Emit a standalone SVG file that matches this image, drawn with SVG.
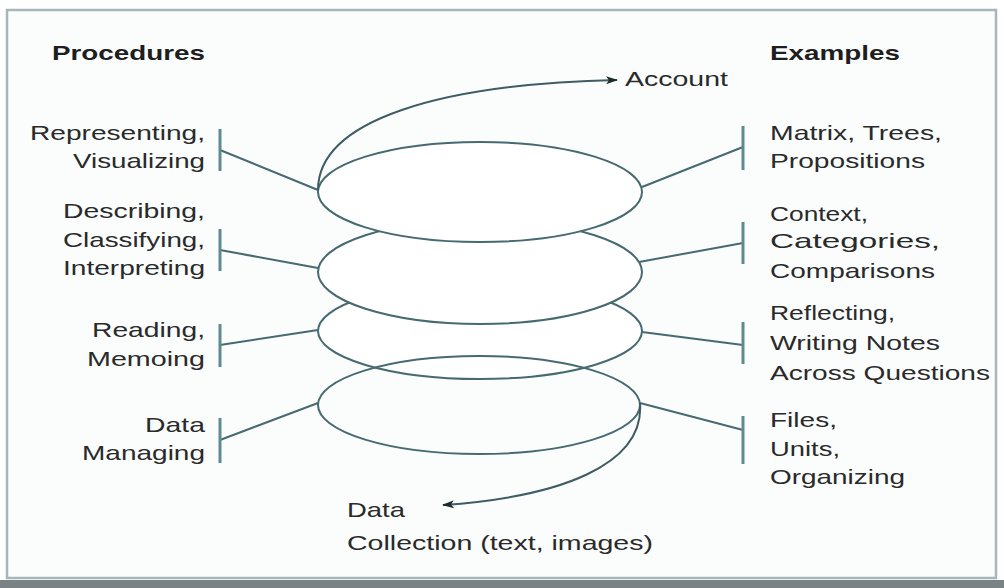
<svg xmlns="http://www.w3.org/2000/svg" width="1004" height="588" viewBox="0 0 1004 588">
  <style>
    .lbl { font-family: "Liberation Sans", Arial, sans-serif; font-size: 21px; fill: #2a2a2a; }
    .hdr { font-family: "Liberation Sans", Arial, sans-serif; font-size: 21px; font-weight: bold; fill: #1e1e1e; }
    .ring { fill: #ffffff; stroke: #466a70; stroke-width: 2; }
    .ring-open { fill: none; stroke: #466a70; stroke-width: 2; }
    .wire { fill: none; stroke: #466a70; stroke-width: 2; }
    .tick { stroke: #5e8a90; stroke-width: 3; }
    .flow { fill: none; stroke: #3e5c62; stroke-width: 2; }
  </style>
  <defs>
    <marker id="head" viewBox="0 0 12 8" refX="11" refY="4" markerWidth="12" markerHeight="8" markerUnits="userSpaceOnUse" orient="auto">
      <path d="M0,0 L12,4 L0,8 L3,4 z" fill="#1f2a2c"/>
    </marker>
  </defs>

  <!-- frame -->
  <rect x="0" y="0" width="1004" height="588" fill="#ffffff"/>
  <rect x="7" y="10" width="989" height="568" fill="#fbfdfd" stroke="#a7b6ba" stroke-width="2.5"/>
  <rect x="0" y="580" width="1004" height="8" fill="#7a8285"/>

  <!-- spiral of analysis: stacked loops, upper loops hide the top of the one below -->
  <g id="loops">
    <ellipse id="loop-reading" class="ring" cx="480" cy="331" rx="162" ry="48"/>
    <ellipse id="loop-describing" class="ring" cx="480" cy="272" rx="162" ry="52"/>
    <ellipse id="loop-representing" class="ring" cx="480" cy="192" rx="162" ry="50"/>
    <ellipse id="loop-managing" class="ring-open" cx="479" cy="405" rx="161" ry="49"/>
  </g>

  <g id="connectors">
    <!-- procedures side -->
    <line class="wire" x1="220" y1="150" x2="318" y2="190"/>
    <line class="wire" x1="220" y1="250" x2="318" y2="268"/>
    <line class="wire" x1="220" y1="345" x2="318" y2="330"/>
    <line class="wire" x1="220" y1="440" x2="318" y2="403"/>
    <line class="tick" x1="220" y1="129" x2="220" y2="171"/>
    <line class="tick" x1="220" y1="229" x2="220" y2="271"/>
    <line class="tick" x1="220" y1="324" x2="220" y2="367"/>
    <line class="tick" x1="220" y1="418" x2="220" y2="463"/>
    <!-- examples side -->
    <line class="wire" x1="642" y1="187" x2="743" y2="147"/>
    <line class="wire" x1="639" y1="262" x2="743" y2="243"/>
    <line class="wire" x1="642" y1="332" x2="743" y2="345"/>
    <line class="wire" x1="640" y1="403" x2="743" y2="430"/>
    <line class="tick" x1="743" y1="126" x2="743" y2="170"/>
    <line class="tick" x1="743" y1="222" x2="743" y2="264"/>
    <line class="tick" x1="743" y1="322" x2="743" y2="364"/>
    <line class="tick" x1="743" y1="416" x2="743" y2="464"/>
    <!-- entry and exit of the spiral -->
    <path class="flow" d="M318,190 C318,120 440,84 617,80" marker-end="url(#head)"/>
    <path class="flow" d="M640,403 C645,465 560,497 443,505" marker-end="url(#head)"/>
  </g>

  <g id="procedures">
    <text class="hdr" x="52" y="60" textLength="153" lengthAdjust="spacingAndGlyphs">Procedures</text>
    <g id="p-representing">
      <text class="lbl" x="30" y="140" textLength="175" lengthAdjust="spacingAndGlyphs">Representing,</text>
      <text class="lbl" x="73" y="168" textLength="132" lengthAdjust="spacingAndGlyphs">Visualizing</text>
    </g>
    <g id="p-describing">
      <text class="lbl" x="63" y="218" textLength="142" lengthAdjust="spacingAndGlyphs">Describing,</text>
      <text class="lbl" x="63" y="247" textLength="142" lengthAdjust="spacingAndGlyphs">Classifying,</text>
      <text class="lbl" x="63" y="275" textLength="142" lengthAdjust="spacingAndGlyphs">Interpreting</text>
    </g>
    <g id="p-reading">
      <text class="lbl" x="92" y="337" textLength="113" lengthAdjust="spacingAndGlyphs">Reading,</text>
      <text class="lbl" x="87" y="366" textLength="118" lengthAdjust="spacingAndGlyphs">Memoing</text>
    </g>
    <g id="p-managing">
      <text class="lbl" x="145" y="432" textLength="60" lengthAdjust="spacingAndGlyphs">Data</text>
      <text class="lbl" x="82" y="460" textLength="123" lengthAdjust="spacingAndGlyphs">Managing</text>
    </g>
  </g>

  <g id="examples">
    <text class="hdr" x="770" y="60" textLength="130" lengthAdjust="spacingAndGlyphs">Examples</text>
    <g id="e-matrix">
      <text class="lbl" x="770" y="140" textLength="172" lengthAdjust="spacingAndGlyphs">Matrix, Trees,</text>
      <text class="lbl" x="770" y="168" textLength="155" lengthAdjust="spacingAndGlyphs">Propositions</text>
    </g>
    <g id="e-context">
      <text class="lbl" x="770" y="221" textLength="98" lengthAdjust="spacingAndGlyphs">Context,</text>
      <text class="lbl" x="770" y="248" textLength="170" lengthAdjust="spacingAndGlyphs">Categories,</text>
      <text class="lbl" x="770" y="278" textLength="165" lengthAdjust="spacingAndGlyphs">Comparisons</text>
    </g>
    <g id="e-reflecting">
      <text class="lbl" x="770" y="320" textLength="125" lengthAdjust="spacingAndGlyphs">Reflecting,</text>
      <text class="lbl" x="770" y="350" textLength="170" lengthAdjust="spacingAndGlyphs">Writing Notes</text>
      <text class="lbl" x="770" y="380" textLength="220" lengthAdjust="spacingAndGlyphs">Across Questions</text>
    </g>
    <g id="e-files">
      <text class="lbl" x="770" y="427" textLength="67" lengthAdjust="spacingAndGlyphs">Files,</text>
      <text class="lbl" x="770" y="456" textLength="70" lengthAdjust="spacingAndGlyphs">Units,</text>
      <text class="lbl" x="770" y="484" textLength="135" lengthAdjust="spacingAndGlyphs">Organizing</text>
    </g>
  </g>

  <g id="account">
    <text class="lbl" x="625" y="86" textLength="103" lengthAdjust="spacingAndGlyphs">Account</text>
  </g>
  <g id="data-collection">
    <text class="lbl" x="347" y="517" textLength="58" lengthAdjust="spacingAndGlyphs">Data</text>
    <text class="lbl" x="347" y="550" textLength="306" lengthAdjust="spacingAndGlyphs">Collection (text, images)</text>
  </g>
</svg>
